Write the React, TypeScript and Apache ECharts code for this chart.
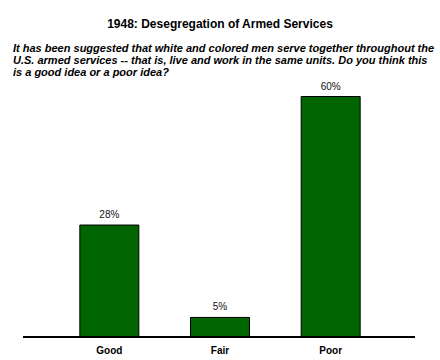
import React, { useEffect, useRef } from "react";
import * as echarts from "echarts";

const categories = ["Good", "Fair", "Poor"];
const values = [28, 5, 60];
const titleText = "1948: Desegregation of Armed Services";
const questionText =
  "It has been suggested that white and colored men serve together throughout the\nU.S. armed services -- that is, live and work in the same units. Do you think this\nis a good idea or a poor idea?";

export default function App() {
  const ref = useRef<HTMLDivElement>(null);
  useEffect(() => {
    if (!ref.current) return;
    const chart = echarts.init(ref.current, undefined, { renderer: "svg" });
    chart.setOption({
      animation: false,
      backgroundColor: "#ffffff",
      textStyle: { fontFamily: "Liberation Sans, Arial, sans-serif" },
      title: [
        {
          text: titleText,
          left: "center",
          top: 13,
          textStyle: { fontSize: 12, fontWeight: "bold", color: "#000" },
        },
        {
          text: questionText,
          left: 8,
          top: 37,
          textStyle: {
            fontSize: 11,
            fontWeight: "bold",
            fontStyle: "italic",
            color: "#000",
            lineHeight: 12,
          },
        },
      ],
      grid: { left: 54, right: 54, top: 96, bottom: 23 },
      xAxis: {
        type: "category",
        data: categories,
        axisLine: { show: false },
        axisTick: { show: false },
        axisLabel: { fontSize: 10, fontWeight: "bold", color: "#000", margin: 8 },
      },
      yAxis: {
        type: "value",
        min: 0,
        max: 60,
        show: false,
        splitLine: { show: false },
      },
      series: [
        {
          type: "bar",
          data: values,
          barWidth: 60,
          itemStyle: { color: "#006400", borderColor: "#000", borderWidth: 1 },
          label: {
            show: true,
            position: "top",
            distance: 5,
            formatter: "{c}%",
            fontSize: 10,
            color: "#111",
          },
        },
      ],
      graphic: [
        {
          type: "line",
          shape: { x1: 23, y1: 337, x2: 415, y2: 337 },
          style: { stroke: "#000", lineWidth: 2 },
          z: 10,
        },
      ],
    });
    return () => chart.dispose();
  }, []);
  return (
    <div
      ref={ref}
      style={{ position: "fixed", left: 0, top: 0, width: 440, height: 360 }}
    />
  );
}
